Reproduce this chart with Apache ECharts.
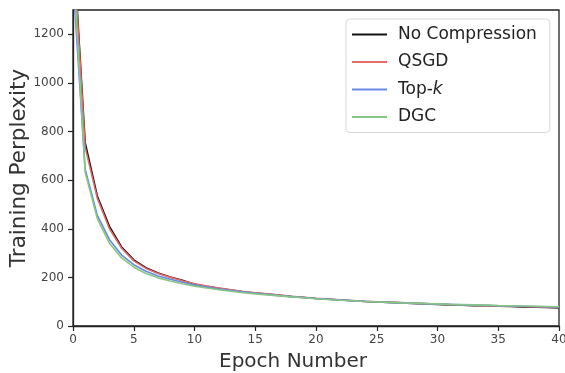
<!DOCTYPE html>
<html>
<head>
<meta charset="utf-8">
<script src="https://cdn.jsdelivr.net/npm/echarts@6/dist/echarts.min.js"></script>
<style>html,body{margin:0;padding:0;background:#fff;}#c{width:565px;height:373px;}</style>
</head>
<body>
<div id="c"></div>
<script>
const epochs = [0,1,2,3,4,5,6,7,8,9,10,11,12,13,14,15,16,17,18,19,20,21,22,23,24,25,26,27,28,29,30,31,32,33,34,35,36,37,38,39,40];
const noCompression = [1600,755,535,410,325,272,240,218,202,188,172,163,155,148,141,136,131,126,121,117,113,110,107,104,101,99,97,95,93,91,89,87,86,84,83,81,80,78,77,76,74];
const qsgd = [1580,735,525,400,320,268,237,216,200,186,174,164,156,149,142,137,132,127,122,118,114,111,108,105,102,100,98,96,94,92,90,88,87,85,84,82,81,80,78,77,76];
const topk = [1420,645,455,355,292,252,225,206,192,180,169,160,152,146,140,135,130,125,121,117,113,110,107,104,102,99,97,95,93,92,90,89,87,86,85,83,82,81,80,79,78];
const dgc = [1490,632,442,340,280,242,216,198,185,174,164,156,149,143,137,132,128,124,120,116,112,109,106,104,101,99,97,95,94,92,91,89,88,87,86,84,83,82,81,80,79];
const seriesNames = ['No Compression','QSGD','Top-k','DGC'];
const seriesColors = ['#111111','#e26a6a','#6a88e4','#86c786'];
const allValues = [noCompression, qsgd, topk, dgc];

const chart = echarts.init(document.getElementById('c'), null, {renderer:'canvas'});
const font = 'DejaVu Sans';
const series = allValues.map((vals, i) => ({
  name: seriesNames[i],
  type: 'line',
  data: epochs.map((e, j) => [e, vals[j]]),
  showSymbol: false,
  symbol: 'none',
  lineStyle: {color: seriesColors[i], width: 1.6},
  itemStyle: {color: seriesColors[i]},
  z: 2 + i,
  animation: false
}));
chart.setOption({
  animation: false,
  backgroundColor: '#fff',
  grid: {left: 73, right: 6, top: 10, bottom: 47, containLabel: false, outerBoundsMode: 'none',
    show: true, borderColor: '#222', borderWidth: 1.3},
  legend: {
    orient: 'vertical', left: 346, top: 19,
    data: seriesNames,
    icon: 'rect', itemWidth: 35, itemHeight: 2,
    itemGap: 10.5,
    padding: [7, 13, 7, 6],
    backgroundColor: '#fff', borderColor: '#d8d8d8', borderWidth: 1, borderRadius: 4,
    textStyle: {fontFamily: font, fontSize: 17, color: '#222', padding: [0,0,0,6],
      rich: {i: {fontFamily: font, fontSize: 17, fontStyle: 'italic', color: '#222'}}},
    formatter: function(n){ return n === 'Top-k' ? 'Top-{i|k}' : n; }
  },
  xAxis: {
    type: 'value', min: 0, max: 40, interval: 5,
    name: 'Epoch Number', nameLocation: 'middle', nameGap: 26, nameMoveOverlap: false,
    nameTextStyle: {fontFamily: font, fontSize: 20, color: '#333', padding: [0, 46, 0, 0]},
    axisLine: {show: true, lineStyle: {color: '#222', width: 1.3}},
    axisTick: {show: true, length: 5, inside: false, lineStyle: {color: '#222', width: 1.2}},
    axisLabel: {fontFamily: font, fontSize: 12, color: '#444', margin: 8},
    splitLine: {show: false}
  },
  yAxis: {
    type: 'value', min: 0, max: 1300, interval: 200,
    name: 'Training Perplexity', nameLocation: 'middle', nameGap: 43, nameMoveOverlap: false,
    nameTextStyle: {fontFamily: font, fontSize: 21.5, color: '#333'},
    axisLine: {show: true, lineStyle: {color: '#222', width: 1.3}},
    axisTick: {show: true, length: 5, inside: false, lineStyle: {color: '#222', width: 1.2}},
    axisLabel: {fontFamily: font, fontSize: 12, color: '#444', margin: 9, showMaxLabel: false,
      formatter: function(v){ return String(v); }},
    splitLine: {show: false}
  },
  series: series
});
</script>
</body>
</html>
